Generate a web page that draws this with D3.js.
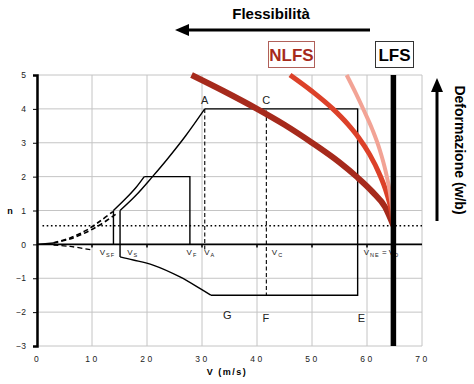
<!DOCTYPE html>
<html>
<head>
<meta charset="utf-8">
<script src="https://cdn.jsdelivr.net/npm/d3@7"></script>
<style>
  body { margin: 0; background: #fff; }
  svg { font-family: "Liberation Sans", Arial, sans-serif; }
</style>
</head>
<body>
<svg width="474" height="384"></svg>
<script>
// values (V in m/s, n load factor)
var xTicks = [0, 10, 20, 30, 40, 50, 60, 70];
var yTicks = [-3, -2, -1, 0, 1, 2, 3, 4, 5];

var flapStall = [[13.9, 1], [16, 1.33], [18, 1.68], [19.5, 2]];
var flapBox = [[19.5, 2], [27.8, 2], [27.8, 0]];
var cleanStall = [[15.1, 1], [18, 1.45], [21, 2.0], [23.6, 2.5], [27, 3.2], [30.5, 4]];
var flapDashed = [[3, 0.05], [6, 0.19], [9, 0.42], [11.5, 0.69], [13.8, 0.97]];
var cleanDashed = [[3, 0.04], [6, 0.16], [9, 0.36], [11.5, 0.58], [14.4, 0.9]];
var negDashed = [[3, -0.02], [6, -0.06], [10.2, -0.17]];
var solidStart = [[0, 0], [3, 0.04]];
var negCurve = [[15.1, -0.37], [17.5, -0.46], [21.1, -0.61], [26, -0.96], [29.6, -1.3], [31.6, -1.5]];
var envelope = [[30.5, 4], [58.3, 4], [58.3, -1.5], [31.6, -1.5]];
var flapVert = { v: 13.9, n0: 0, n1: 1 };
var stallVert = { v: 15.1, n0: -0.37, n1: 1 };
var gustN = 0.55;
var vA = 30.5, vC = 41.7, vLFS = 64.8;

var nlfsDark = [[28.1, 5], [34, 4.52], [40, 4.0], [45, 3.53], [50, 3.0], [55, 2.42], [58.1, 2.0], [61, 1.55], [63.3, 1.1], [64.8, 0.55]];
var nlfsMid = [[46, 5], [50, 4.52], [53.8, 4.0], [56.5, 3.55], [58.5, 3.15], [60.5, 2.65], [62.2, 2.1], [63.6, 1.5], [64.4, 1.0], [64.8, 0.55]];
var nlfsLight = [[56.3, 5], [58, 4.45], [59.5, 3.93], [61, 3.38], [62.3, 2.8], [63.4, 2.15], [64.2, 1.5], [64.6, 1.0], [64.8, 0.55]];

var pointLabels = [
  { t: "A", v: 30.5, n: 4.15 }, { t: "C", v: 41.7, n: 4.15 },
  { t: "G", v: 34.6, n: -2.2 }, { t: "F", v: 41.6, n: -2.3 }, { t: "E", v: 59, n: -2.3 }
];
var speedLabels = [
  { b: "V", s: "SF", v: 11.4 }, { b: "V", s: "S", v: 16.4 }, { b: "V", s: "F", v: 27.2 },
  { b: "V", s: "A", v: 30.4 }, { b: "V", s: "C", v: 42.7 }, { b: "V", s: "NE", v: 59.4, tail: " = V", s2: "D" }
];

var svg = d3.select("svg");
var x = d3.scaleLinear().domain([0, 70]).range([37, 422]);
var y = d3.scaleLinear().domain([-3, 5]).range([346, 75]);
var line = d3.line().x(function (d) { return x(d[0]); }).y(function (d) { return y(d[1]); });
var smooth = d3.line().curve(d3.curveCatmullRom).x(function (d) { return x(d[0]); }).y(function (d) { return y(d[1]); });
var mono = d3.line().curve(d3.curveMonotoneX).x(function (d) { return x(d[0]); }).y(function (d) { return y(d[1]); });

// grid
svg.append("g").selectAll("line").data(xTicks).enter().append("line")
  .attr("x1", function (d) { return x(d); }).attr("x2", function (d) { return x(d); })
  .attr("y1", y(5)).attr("y2", y(-3))
  .attr("stroke", "#c4c4c4").attr("stroke-width", 1);
svg.append("g").selectAll("line").data(yTicks).enter().append("line")
  .attr("x1", x(0)).attr("x2", x(70))
  .attr("y1", function (d) { return y(d); }).attr("y2", function (d) { return y(d); })
  .attr("stroke", "#c4c4c4").attr("stroke-width", 1);

// axes
var yAxis = svg.append("g").attr("transform", "translate(" + x(0) + ",0)")
  .call(d3.axisLeft(y).tickValues(yTicks).tickSize(4).tickPadding(7));
yAxis.select(".domain").attr("stroke-width", 2.5);
yAxis.selectAll("text").style("font-size", "8.5px").attr("fill", "#222");

var xAxis = svg.append("g").attr("transform", "translate(0," + y(-3) + ")")
  .call(d3.axisBottom(x).tickValues(xTicks).tickSize(0).tickPadding(10));
xAxis.select(".domain").remove();
xAxis.selectAll("text").style("font-size", "8.5px").attr("fill", "#222").attr("letter-spacing", "2.5px");

// zero line with ticks
svg.append("line").attr("x1", x(0)).attr("x2", x(70)).attr("y1", y(0)).attr("y2", y(0))
  .attr("stroke", "#000").attr("stroke-width", 1.6);
svg.append("g").selectAll("line").data(xTicks.slice(1, 7)).enter().append("line")
  .attr("x1", function (d) { return x(d); }).attr("x2", function (d) { return x(d); })
  .attr("y1", y(0)).attr("y2", y(0) + 3).attr("stroke", "#000").attr("stroke-width", 1.5);

// gust line
svg.append("line").attr("x1", x(1)).attr("x2", x(70)).attr("y1", y(gustN)).attr("y2", y(gustN))
  .attr("stroke", "#000").attr("stroke-width", 1.6).attr("stroke-dasharray", "1.6,2.6");

// V-n diagram
function path(data, gen, w, dash) {
  svg.append("path").datum(data).attr("d", gen).attr("fill", "none")
    .attr("stroke", "#000").attr("stroke-width", w).attr("stroke-dasharray", dash || null);
}
path(solidStart, line, 1.4);
path(flapDashed, smooth, 1.6, "5,3");
path(cleanDashed, smooth, 1.6, "5,3");
path(negDashed, smooth, 1.3, "5,3");
path(flapStall, smooth, 1.4);
path(flapBox, line, 1.4);
path(cleanStall, smooth, 1.4);
path(negCurve, smooth, 1.4);
path(envelope, line, 1.4);
path([[flapVert.v, flapVert.n0], [flapVert.v, flapVert.n1]], line, 1.4);
path([[stallVert.v, stallVert.n0], [stallVert.v, stallVert.n1]], line, 1.4);
path([[vA, 4], [vA, -0.2]], line, 1.1, "4,2.5");
path([[vC, 3.95], [vC, -1.5]], line, 1.1, "4,2.5");

// labels
svg.append("g").selectAll("text").data(pointLabels).enter().append("text")
  .attr("x", function (d) { return x(d.v); }).attr("y", function (d) { return y(d.n); })
  .attr("text-anchor", "middle").style("font-size", "11px").attr("fill", "#222")
  .text(function (d) { return d.t; });

var sl = svg.append("g").selectAll("text").data(speedLabels).enter().append("text")
  .attr("x", function (d) { return x(d.v); }).attr("y", y(0) + 11)
  .style("font-size", "8px").attr("fill", "#222");
sl.append("tspan").text(function (d) { return d.b; });
sl.append("tspan").attr("dy", 1.5).style("font-size", "5.5px").attr("letter-spacing", "1px").attr("dx", 1)
  .text(function (d) { return d.s; });
sl.filter(function (d) { return d.tail; }).append("tspan").attr("dy", -1.5).text(function (d) { return d.tail; });
sl.filter(function (d) { return d.s2; }).append("tspan").attr("dy", 1.5).style("font-size", "5.5px")
  .text(function (d) { return d.s2; });

// NLFS / LFS
var flexColors = ["#a62a1c", "#dc4129", "#f2a395"];
var flexWidths = [6, 5, 4];
[nlfsDark, nlfsMid, nlfsLight].forEach(function (d, i) {
  svg.append("path").datum(d).attr("d", mono).attr("fill", "none")
    .attr("stroke", flexColors[i]).attr("stroke-width", flexWidths[i]);
});
svg.append("line").attr("x1", x(vLFS)).attr("x2", x(vLFS)).attr("y1", y(5)).attr("y2", y(-3))
  .attr("stroke", "#000").attr("stroke-width", 5.5);

// titles
svg.append("text").attr("x", 10).attr("y", y(1) + 3).attr("text-anchor", "middle")
  .style("font-size", "9px").style("font-weight", "bold").text("n");
svg.append("text").attr("x", 227).attr("y", 375).attr("text-anchor", "middle")
  .style("font-size", "9px").style("font-weight", "bold").attr("letter-spacing", "1.5px").text("V (m/s)");

svg.append("text").attr("x", 271).attr("y", 19).attr("text-anchor", "middle")
  .style("font-size", "15px").style("font-weight", "bold").text("Flessibilità");
svg.append("line").attr("x1", 370).attr("x2", 186).attr("y1", 30).attr("y2", 30)
  .attr("stroke", "#000").attr("stroke-width", 3);
svg.append("path").attr("d", "M175,30 L189,24 L189,36 Z").attr("fill", "#000");

svg.append("rect").attr("x", 268.5).attr("y", 41.5).attr("width", 46).attr("height", 26)
  .attr("fill", "#fff").attr("stroke", "#b0605a").attr("stroke-width", 1);
svg.append("text").attr("x", 291.5).attr("y", 61).attr("text-anchor", "middle")
  .style("font-size", "17px").style("font-weight", "bold").attr("fill", "#a62a1c").text("NLFS");
svg.append("rect").attr("x", 375.5).attr("y", 41.5).attr("width", 38).attr("height", 26)
  .attr("fill", "#fff").attr("stroke", "#333").attr("stroke-width", 1);
svg.append("text").attr("x", 394.5).attr("y", 61).attr("text-anchor", "middle")
  .style("font-size", "17px").style("font-weight", "bold").attr("fill", "#000").text("LFS");

svg.append("line").attr("x1", 437).attr("x2", 437).attr("y1", 221).attr("y2", 90)
  .attr("stroke", "#000").attr("stroke-width", 3);
svg.append("path").attr("d", "M437,78 L431,92 L443,92 Z").attr("fill", "#000");
svg.append("text").attr("transform", "translate(455,150) rotate(90)").attr("text-anchor", "middle")
  .style("font-size", "14px").style("font-weight", "bold").text("Deformazione (w/b)");
</script>
</body>
</html>
